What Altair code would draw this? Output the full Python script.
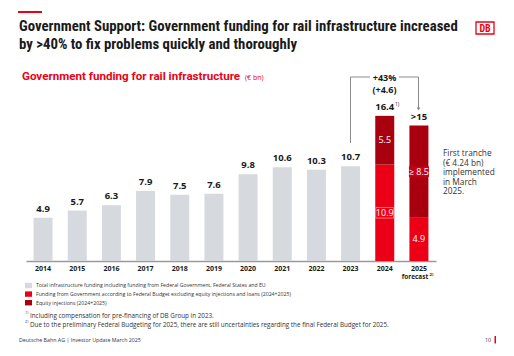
import altair as alt
import pandas as pd

# ---------------- data ----------------
years = ["2014", "2015", "2016", "2017", "2018", "2019", "2020", "2021", "2022", "2023", "2024", "2025"]
total_funding = [4.9, 5.7, 6.3, 7.9, 7.5, 7.6, 9.8, 10.6, 10.3, 10.7]          # 2014-2023 (grey)
budget_years = ["2024", "2025"]
budget_funding = [10.9, 4.9]                                                     # red
equity_injections = [5.5, 10.4]                                                  # dark red (drawn)
equity_labels = ["5.5", "≥ 8.5"]
budget_labels = ["10.9", "4.9"]
top_labels = ["16.4", ">15"]
top_values = [16.4, 15.3]

GREY = "#d6d9dd"
RED = "#ec0016"
DARK = "#a8000f"
TXT = "#1a1a1a"
FONT = "Liberation Sans Narrow, Roboto Condensed, Roboto, sans-serif"
FONT2 = "Open Sans, Roboto, sans-serif"

rows = []
for y, v in zip(years[:10], total_funding):
    rows.append({"year": y, "start": 0, "end": v, "kind": "total"})
for y, b, e in zip(budget_years, budget_funding, equity_injections):
    rows.append({"year": y, "start": 0, "end": b, "kind": "budget"})
    rows.append({"year": y, "start": b, "end": b + e, "kind": "equity"})
bars_df = pd.DataFrame(rows)

xs = alt.X("year:N", sort=years, scale=alt.Scale(domain=years, paddingInner=0, paddingOuter=0),
           axis=alt.Axis(title=None, labelAngle=0, ticks=False, labelFontWeight="bold", labelFontSize=7,
                         labelColor=TXT, labelFont=FONT2, labelPadding=3, domainColor="#9a9a9a",
                         domainWidth=1.5))
ys = alt.Scale(domain=[0, 20], nice=False, zero=True)
xe = alt.X("year:N", sort=years)

bars = alt.Chart(bars_df).mark_bar(width=19).encode(
    x=xs,
    y=alt.Y("start:Q", scale=ys, axis=None),
    y2="end:Q",
    color=alt.Color("kind:N", scale=alt.Scale(domain=["total", "budget", "equity"], range=[GREY, RED, DARK]),
                    legend=None),
)

grey_lab_df = pd.DataFrame({"year": years[:10], "v": total_funding, "t": [f"{v:.1f}" for v in total_funding]})
grey_labels = alt.Chart(grey_lab_df).mark_text(dy=-4, baseline="bottom", fontWeight="bold", fontSize=9.5,
                                               font=FONT2, color=TXT).encode(
    x=xe, y=alt.Y("v:Q", scale=ys), text="t:N")

top_df = pd.DataFrame({"year": budget_years, "v": top_values, "t": top_labels})
top_text = alt.Chart(top_df).mark_text(dy=-4, baseline="bottom", fontWeight="bold", fontSize=9.5,
                                       font=FONT2, color=TXT).encode(
    x=xe, y=alt.Y("v:Q", scale=ys), text="t:N")

mids = [b / 2 for b in budget_funding] + [b + e / 2 for b, e in zip(budget_funding, equity_injections)]
inner_df = pd.DataFrame({"year": budget_years * 2, "mid": mids, "t": budget_labels + equity_labels})

# label boxes (10.9 on red, >=8.5 on dark red)
box_a = alt.Chart(pd.DataFrame({"year": ["2024"], "lo": [mids[0] - 0.6], "hi": [mids[0] + 0.6]})).mark_bar(
    width=18, color=RED, stroke="#f6a3aa", strokeWidth=0.7).encode(
    x=xe, y=alt.Y("lo:Q", scale=ys), y2="hi:Q")
box_b = alt.Chart(pd.DataFrame({"year": ["2025"], "lo": [mids[3] - 0.6], "hi": [mids[3] + 0.6]})).mark_bar(
    width=20, color="#c4001a").encode(
    x=xe, y=alt.Y("lo:Q", scale=ys), y2="hi:Q")

inner_text = alt.Chart(inner_df).mark_text(baseline="middle", fontSize=9, font=FONT2, color="white").encode(
    x=xe, y=alt.Y("mid:Q", scale=ys), text="t:N")

one = pd.DataFrame({"a": [0]})
OX, OY = 26, 84  # plot origin in page pixels


def txt(t, x, y, size, color=TXT, weight="normal", align="left", baseline="alphabetic", font=FONT2, lh=None):
    kw = dict(text=t, fontSize=size, color=color, fontWeight=weight, align=align, baseline=baseline, font=font)
    if lh:
        kw["lineHeight"] = lh
    return alt.Chart(one).mark_text(**kw).encode(x=alt.value(x - OX), y=alt.value(y - OY))


def rule(x1, y1, x2, y2, color="#8a8a8a", w=1.0):
    return alt.Chart(one).mark_rule(color=color, strokeWidth=w).encode(
        x=alt.value(x1 - OX), x2=alt.value(x2 - OX), y=alt.value(y1 - OY), y2=alt.value(y2 - OY))


def rect(x1, y1, x2, y2, fill, stroke=None, sw=0):
    kw = dict(fill=fill)
    if stroke:
        kw.update(stroke=stroke, strokeWidth=sw)
    return alt.Chart(one).mark_rect(**kw).encode(
        x=alt.value(x1 - OX), x2=alt.value(x2 - OX), y=alt.value(y1 - OY), y2=alt.value(y2 - OY))


layers = [bars, grey_labels, top_text, box_a, box_b, inner_text]

# header
layers += [
    rect(18, 11, 42, 13, RED),
    txt("Government Support: Government funding for rail infrastructure increased", 19, 31, 14.8, weight="bold", font=FONT),
    txt("by >40% to fix problems quickly and thoroughly", 19, 49, 14.8, weight="bold", font=FONT),
    rect(476, 22, 494, 34, "white", RED, 1.3),
    txt("DB", 485, 32, 10, color=RED, weight="bold", align="center", font=FONT),
    txt("Government funding for rail infrastructure", 22, 80, 11.6, color=RED, weight="bold", font="Roboto, sans-serif"),
    txt("(€ bn)", 245, 80, 7, color=RED, font=FONT2),
]

# bracket annotation
layers += [
    rule(350.5, 77, 350.5, 143),
    rule(350.5, 77, 370, 77),
    rule(399, 77, 418.5, 77),
    rule(418.5, 77, 418.5, 108),
    alt.Chart(one).mark_point(shape="triangle-down", filled=True, color="#8a8a8a", size=14, opacity=1).encode(
        x=alt.value(418.5 - OX), y=alt.value(109 - OY)),
    txt("+43%", 384.5, 81, 9, weight="bold", align="center"),
    txt("(+4.6)", 384.5, 93, 9, weight="bold", align="center"),
    txt("1)", 395, 106, 5, color=TXT),
    txt(["First tranche", "(€ 4.24 bn)", "implemented", "in March", "2025."], 443, 156, 8.3, color="#333333",
        lh=9.6),
    txt("forecast", 415, 279, 6.5, weight="bold", align="center"),
    txt("2)", 429.5, 275.5, 4.2, weight="bold"),
]

# legend
legend_items = [
    (GREY, "Total infrastructure funding including funding from Federal Government, Federal States and EU"),
    (RED, "Funding from Government according to Federal Budget excluding equity injections and loans (2024+2025)"),
    (DARK, "Equity injections (2024+2025)"),
]
for i, (c, t) in enumerate(legend_items):
    yc = 285.5 + i * 8.6
    layers.append(rect(25, yc - 2.7, 32, yc + 2.7, c))
    layers.append(txt(t, 36, yc + 1.8, 5.2, color="#333333", font=FONT2))

# footnotes & footer
layers += [
    txt("1)", 25, 314, 3.8, color="#333333"),
    txt("Including compensation for pre-financing of DB Group in 2023.", 30, 318, 6.3, color="#333333", font=FONT2),
    txt("2)", 25, 322.5, 3.8, color="#333333"),
    txt("Due to the preliminary Federal Budgeting for 2025, there are still uncertainties regarding the final Federal Budget for 2025.",
        30, 326.5, 6.3, color="#333333", font=FONT2),
    txt("Deutsche Bahn AG | Investor Update March 2025", 19, 342, 5.3, color="#333333", font=FONT2),
    txt("10", 491, 342, 5.3, color="#333333", align="right", font=FONT2),
    rect(494.5, 336, 496, 343.5, RED),
]

chart = alt.layer(*layers).properties(
    width=410, height=177,
    padding={"left": 26, "top": 84, "right": 78, "bottom": 95},
    autosize=alt.AutoSizeParams(type="none"),
    background="white",
).configure_view(stroke=None)

chart.save("out.html", embed_options={"renderer": "svg", "actions": False})
